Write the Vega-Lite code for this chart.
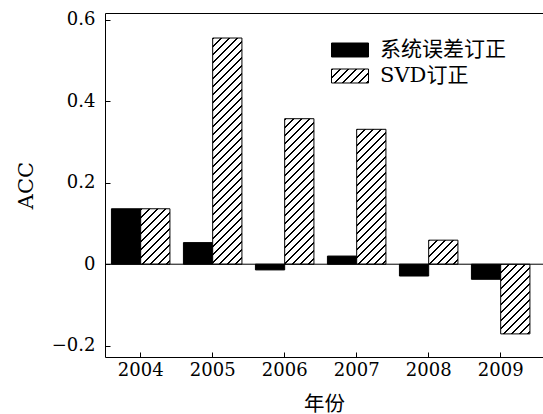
{
  "$schema": "https://vega.github.io/schema/vega-lite/v6.json",
  "width": 438,
  "height": 344,
  "autosize": {"type": "none"},
  "padding": {"left": 105, "top": 13, "right": 0, "bottom": 57},
  "params": [
    {"name": "hatch", "value": [
      {"offset":0,"color":"#000"},{"offset":0.006,"color":"#000"},{"offset":0.006,"color":"#fff"},{"offset":0.025,"color":"#fff"},
      {"offset":0.025,"color":"#000"},{"offset":0.031,"color":"#000"},{"offset":0.031,"color":"#fff"},{"offset":0.05,"color":"#fff"},
      {"offset":0.05,"color":"#000"},{"offset":0.056,"color":"#000"},{"offset":0.056,"color":"#fff"},{"offset":0.075,"color":"#fff"},
      {"offset":0.075,"color":"#000"},{"offset":0.081,"color":"#000"},{"offset":0.081,"color":"#fff"},{"offset":0.1,"color":"#fff"},
      {"offset":0.1,"color":"#000"},{"offset":0.106,"color":"#000"},{"offset":0.106,"color":"#fff"},{"offset":0.125,"color":"#fff"},
      {"offset":0.125,"color":"#000"},{"offset":0.131,"color":"#000"},{"offset":0.131,"color":"#fff"},{"offset":0.15,"color":"#fff"},
      {"offset":0.15,"color":"#000"},{"offset":0.156,"color":"#000"},{"offset":0.156,"color":"#fff"},{"offset":0.175,"color":"#fff"},
      {"offset":0.175,"color":"#000"},{"offset":0.181,"color":"#000"},{"offset":0.181,"color":"#fff"},{"offset":0.2,"color":"#fff"},
      {"offset":0.2,"color":"#000"},{"offset":0.206,"color":"#000"},{"offset":0.206,"color":"#fff"},{"offset":0.225,"color":"#fff"},
      {"offset":0.225,"color":"#000"},{"offset":0.231,"color":"#000"},{"offset":0.231,"color":"#fff"},{"offset":0.25,"color":"#fff"},
      {"offset":0.25,"color":"#000"},{"offset":0.256,"color":"#000"},{"offset":0.256,"color":"#fff"},{"offset":0.275,"color":"#fff"},
      {"offset":0.275,"color":"#000"},{"offset":0.281,"color":"#000"},{"offset":0.281,"color":"#fff"},{"offset":0.3,"color":"#fff"},
      {"offset":0.3,"color":"#000"},{"offset":0.306,"color":"#000"},{"offset":0.306,"color":"#fff"},{"offset":0.325,"color":"#fff"},
      {"offset":0.325,"color":"#000"},{"offset":0.331,"color":"#000"},{"offset":0.331,"color":"#fff"},{"offset":0.35,"color":"#fff"},
      {"offset":0.35,"color":"#000"},{"offset":0.356,"color":"#000"},{"offset":0.356,"color":"#fff"},{"offset":0.375,"color":"#fff"},
      {"offset":0.375,"color":"#000"},{"offset":0.381,"color":"#000"},{"offset":0.381,"color":"#fff"},{"offset":0.4,"color":"#fff"},
      {"offset":0.4,"color":"#000"},{"offset":0.406,"color":"#000"},{"offset":0.406,"color":"#fff"},{"offset":0.425,"color":"#fff"},
      {"offset":0.425,"color":"#000"},{"offset":0.431,"color":"#000"},{"offset":0.431,"color":"#fff"},{"offset":0.45,"color":"#fff"},
      {"offset":0.45,"color":"#000"},{"offset":0.456,"color":"#000"},{"offset":0.456,"color":"#fff"},{"offset":0.475,"color":"#fff"},
      {"offset":0.475,"color":"#000"},{"offset":0.481,"color":"#000"},{"offset":0.481,"color":"#fff"},{"offset":0.5,"color":"#fff"},
      {"offset":0.5,"color":"#000"},{"offset":0.506,"color":"#000"},{"offset":0.506,"color":"#fff"},{"offset":0.525,"color":"#fff"},
      {"offset":0.525,"color":"#000"},{"offset":0.531,"color":"#000"},{"offset":0.531,"color":"#fff"},{"offset":0.55,"color":"#fff"},
      {"offset":0.55,"color":"#000"},{"offset":0.556,"color":"#000"},{"offset":0.556,"color":"#fff"},{"offset":0.575,"color":"#fff"},
      {"offset":0.575,"color":"#000"},{"offset":0.581,"color":"#000"},{"offset":0.581,"color":"#fff"},{"offset":0.6,"color":"#fff"},
      {"offset":0.6,"color":"#000"},{"offset":0.606,"color":"#000"},{"offset":0.606,"color":"#fff"},{"offset":0.625,"color":"#fff"},
      {"offset":0.625,"color":"#000"},{"offset":0.631,"color":"#000"},{"offset":0.631,"color":"#fff"},{"offset":0.65,"color":"#fff"},
      {"offset":0.65,"color":"#000"},{"offset":0.656,"color":"#000"},{"offset":0.656,"color":"#fff"},{"offset":0.675,"color":"#fff"},
      {"offset":0.675,"color":"#000"},{"offset":0.681,"color":"#000"},{"offset":0.681,"color":"#fff"},{"offset":0.7,"color":"#fff"},
      {"offset":0.7,"color":"#000"},{"offset":0.706,"color":"#000"},{"offset":0.706,"color":"#fff"},{"offset":0.725,"color":"#fff"},
      {"offset":0.725,"color":"#000"},{"offset":0.731,"color":"#000"},{"offset":0.731,"color":"#fff"},{"offset":0.75,"color":"#fff"},
      {"offset":0.75,"color":"#000"},{"offset":0.756,"color":"#000"},{"offset":0.756,"color":"#fff"},{"offset":0.775,"color":"#fff"},
      {"offset":0.775,"color":"#000"},{"offset":0.781,"color":"#000"},{"offset":0.781,"color":"#fff"},{"offset":0.8,"color":"#fff"},
      {"offset":0.8,"color":"#000"},{"offset":0.806,"color":"#000"},{"offset":0.806,"color":"#fff"},{"offset":0.825,"color":"#fff"}
    ]}
  ],
  "data": {
    "values": [
      {"year": "2004", "series": "系统误差订正", "acc": 0.136},
      {"year": "2004", "series": "SVD订正", "acc": 0.136},
      {"year": "2005", "series": "系统误差订正", "acc": 0.053},
      {"year": "2005", "series": "SVD订正", "acc": 0.555},
      {"year": "2006", "series": "系统误差订正", "acc": -0.014},
      {"year": "2006", "series": "SVD订正", "acc": 0.357},
      {"year": "2007", "series": "系统误差订正", "acc": 0.02},
      {"year": "2007", "series": "SVD订正", "acc": 0.331},
      {"year": "2008", "series": "系统误差订正", "acc": -0.029},
      {"year": "2008", "series": "SVD订正", "acc": 0.059},
      {"year": "2009", "series": "系统误差订正", "acc": -0.037},
      {"year": "2009", "series": "SVD订正", "acc": -0.171}
    ]
  },
  "layer": [
    {
      "mark": {"type": "bar", "stroke": "#000", "strokeWidth": 1},
      "encoding": {
        "x": {
          "field": "year", "type": "ordinal",
          "scale": {"paddingInner": 0.1875, "paddingOuter": 0.1354, "align": 0.33},
          "axis": {
            "orient": "bottom", "title": "年份", "labelAngle": 0,
            "tickSize": -5, "labelPadding": 9, "grid": false,
            "domainColor": "#000", "tickColor": "#000", "labelColor": "#000",
            "labelFont": "'DejaVu Serif'", "labelFontSize": 18,
            "titleFont": "'DejaVu Serif', 'Noto Sans CJK SC'", "titleFontSize": 20.5,
            "titleFontWeight": "normal", "titleColor": "#000",
            "titleY": 47, "titleBaseline": "middle"
          }
        },
        "xOffset": {
          "field": "series", "type": "nominal",
          "sort": ["系统误差订正", "SVD订正"],
          "scale": {"paddingInner": 0, "paddingOuter": 0}
        },
        "y": {
          "field": "acc", "type": "quantitative", "stack": null,
          "scale": {"domain": [-0.2277, 0.6164], "nice": false, "zero": false},
          "axis": {
            "title": "ACC", "values": [-0.2, 0, 0.2, 0.4, 0.6],
            "labelExpr": "datum.value === 0 ? '0' : format(datum.value, '.1f')",
            "tickSize": -5, "labelPadding": 15, "grid": false,
            "domainColor": "#000", "tickColor": "#000", "labelColor": "#000",
            "labelFont": "'DejaVu Serif'", "labelFontSize": 18,
            "titleFont": "'DejaVu Serif'", "titleFontSize": 21,
            "titleFontWeight": "normal", "titleColor": "#000",
            "titleX": -79, "titleY": 172, "titleAngle": -90,
            "titleAlign": "center", "titleBaseline": "middle"
          }
        },
        "fill": {
          "field": "series", "type": "nominal",
          "scale": {
            "domain": ["系统误差订正", "SVD订正"],
            "range": ["#000", {"expr": "{'gradient': 'linear', 'x1': 0, 'y1': 0, 'x2': 7.565, 'y2': 2.863, 'stops': hatch}"}]
          },
          "condition": {
            "test": "datum.series === 'SVD订正'",
            "value": {"expr": "{'gradient': 'linear', 'x1': 0, 'y1': 0, 'x2': 29.25 * 320 / (855.5625 + pow(scale('y', datum.acc) - scale('y', 0), 2)), 'y2': abs(scale('y', datum.acc) - scale('y', 0)) * 320 / (855.5625 + pow(scale('y', datum.acc) - scale('y', 0), 2)), 'stops': hatch}"}
          },
          "legend": {
            "title": null, "orient": "none", "legendX": 226, "legendY": 24,
            "symbolType": "M-1,-0.378H1V0.378H-1Z", "symbolSize": 1369,
            "symbolStrokeColor": "#000", "symbolStrokeWidth": 1, "symbolOpacity": 1,
            "labelFont": "'DejaVu Serif', 'Noto Sans CJK SC'", "labelFontSize": 21,
            "labelColor": "#000", "labelOffset": 11, "clipHeight": 26, "rowPadding": 0,
            "padding": 0, "labelLimit": 300
          }
        }
      }
    },
    {
      "mark": {"type": "bar", "opacity": 0},
      "encoding": {
        "x": {
          "field": "year", "type": "ordinal",
          "axis": {"orient": "top", "labels": false, "ticks": false, "title": null, "domainColor": "#000", "grid": false}
        }
      }
    },
    {
      "data": {"values": [{}]},
      "mark": {"type": "rule", "color": "#000", "strokeWidth": 1},
      "encoding": {"y": {"datum": 0}}
    }
  ],
  "resolve": {"axis": {"x": "independent"}},
  "config": {"view": {"stroke": null}, "background": "#fff"}
}
